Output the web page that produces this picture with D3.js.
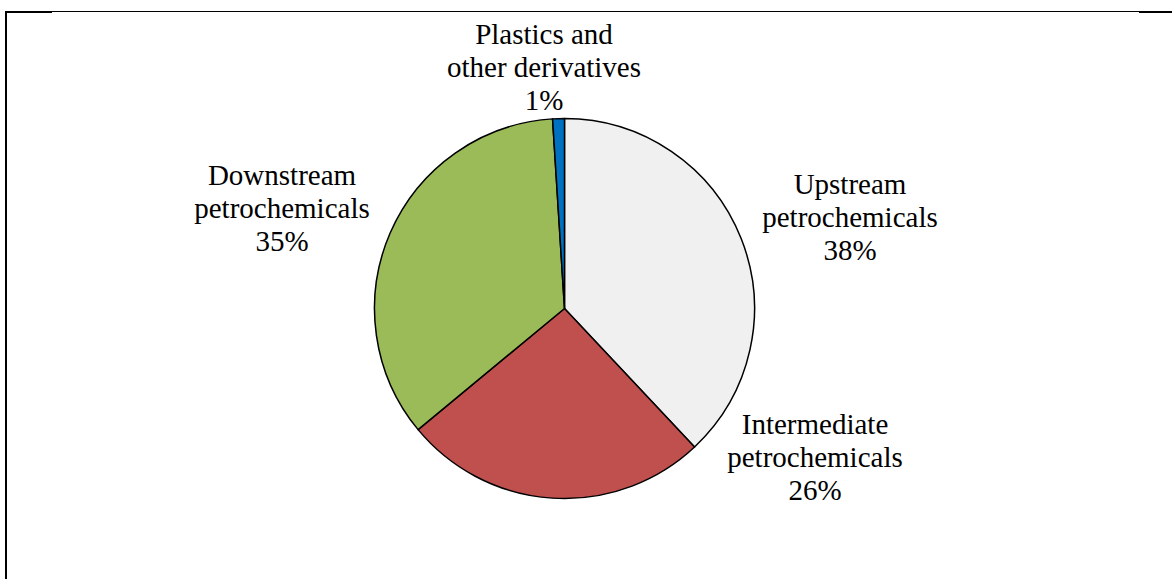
<!DOCTYPE html>
<html>
<head>
<meta charset="utf-8">
<script src="https://cdn.jsdelivr.net/npm/d3@7"></script>
<style>
  html, body { margin: 0; padding: 0; background: #fff; }
  svg { display: block; }
</style>
</head>
<body>
<svg id="chart" width="1172" height="579"></svg>
<script>
// Petrochemical value chain shares (%)
const categories = ["Upstream petrochemicals", "Intermediate petrochemicals", "Downstream petrochemicals", "Plastics and other derivatives"];
const shares = [38, 26, 35, 1];
const labelLines = [
  ["Upstream", "petrochemicals"],
  ["Intermediate", "petrochemicals"],
  ["Downstream", "petrochemicals"],
  ["Plastics and", "other derivatives"]
];
const colors = ["#F0F0F0", "#C0504D", "#9BBB59", "#0070C0"];

const W = 1172, H = 579;
const cx = 564.5, cy = 308.5, R = 190;
const FONT = "'Liberation Serif', 'DejaVu Serif', 'Times New Roman', Times, serif";

const svg = d3.select("#chart");

// Frame lines
const frame = svg.append("g");
frame.append("line").attr("x1", 5).attr("x2", W).attr("y1", 11.5).attr("y2", 11.5)
  .attr("stroke", "#000").attr("stroke-width", 1);
frame.append("line").attr("x1", 5).attr("x2", 52).attr("y1", 12).attr("y2", 12)
  .attr("stroke", "#000").attr("stroke-width", 2);
frame.append("line").attr("x1", 1139).attr("x2", W).attr("y1", 12).attr("y2", 12)
  .attr("stroke", "#000").attr("stroke-width", 2);
frame.append("line").attr("x1", 6).attr("x2", 6).attr("y1", 11).attr("y2", H)
  .attr("stroke", "#000").attr("stroke-width", 2);

const data = categories.map((c, i) => ({ name: c, value: shares[i], lines: labelLines[i], color: colors[i] }));

const pie = d3.pie().value(d => d.value).sort(null);
const arc = d3.arc().innerRadius(0).outerRadius(R);

const g = svg.append("g").attr("transform", `translate(${cx},${cy})`);
g.selectAll("path")
  .data(pie(data))
  .join("path")
  .attr("d", arc)
  .attr("fill", d => d.data.color)
  .attr("stroke", "#000")
  .attr("stroke-width", 1.5)
  .attr("stroke-linejoin", "round");

// Label anchor positions (center x, first baseline) per slice
const labelPos = [
  [850, 194],
  [815, 434],
  [282, 185],
  [544, 44]
];
const lineH = 33;

const labels = svg.append("g")
  .attr("font-family", FONT)
  .attr("font-size", 29)
  .attr("fill", "#000")
  .attr("text-anchor", "middle");
data.forEach((d, i) => {
  const [lx, ly] = labelPos[i];
  const t = labels.append("text").attr("x", lx).attr("y", ly);
  d.lines.forEach((ln, j) => {
    t.append("tspan").attr("x", lx).attr("y", ly + j * lineH).text(ln);
  });
  t.append("tspan").attr("x", lx).attr("y", ly + d.lines.length * lineH).text(d3.format("d")(d.value) + "%");
});
</script>
</body>
</html>
